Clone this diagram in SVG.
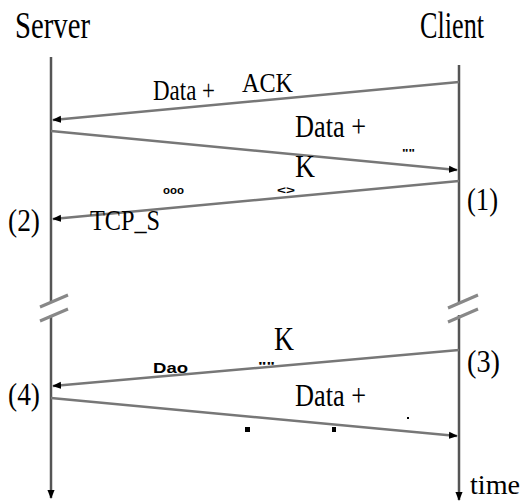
<svg xmlns="http://www.w3.org/2000/svg" width="527" height="504" viewBox="0 0 527 504">
<style>
.t{font-family:"Liberation Serif","Times New Roman",serif;fill:#000}
.life{stroke:#555;stroke-width:2.5;fill:none}
.msg{stroke:#777;stroke-width:2.5;fill:none}
.brk{stroke:#888;stroke-width:3;fill:none}
.tiny{font-family:"Liberation Sans",Arial,sans-serif;font-weight:bold;fill:#000}
</style>
<defs>
<marker id="ah" viewBox="0 0 10 10" refX="9" refY="5" markerWidth="9" markerHeight="9" markerUnits="userSpaceOnUse" orient="auto">
<path d="M0,1 L10,5 L0,9 Z" fill="#000"/>
</marker>
</defs>
<rect width="527" height="504" fill="#fff"/>
<g id="server">
<text class="t" x="15" y="38" font-size="38" textLength="75" lengthAdjust="spacingAndGlyphs">Server</text>
<line class="life" x1="51" y1="57" x2="51" y2="303"/>
<line class="life" x1="51" y1="315" x2="51" y2="498" marker-end="url(#ah)"/>
<path class="brk" d="M40,307 L68,295 M40,321 L68,309"/>
<text class="t" x="8" y="231" font-size="32" textLength="32" lengthAdjust="spacingAndGlyphs">(2)</text>
<text class="t" x="8" y="405" font-size="32" textLength="32" lengthAdjust="spacingAndGlyphs">(4)</text>
</g>
<g id="client">
<text class="t" x="420" y="38" font-size="38" textLength="64" lengthAdjust="spacingAndGlyphs">Client</text>
<line class="life" x1="459" y1="65" x2="459" y2="500" marker-end="url(#ah)" stroke-dasharray="238 12 500"/>
<path class="brk" d="M448,308 L478,295 M448,322 L478,309"/>
<text class="t" x="467" y="210" font-size="32" textLength="31" lengthAdjust="spacingAndGlyphs">(1)</text>
<text class="t" x="467" y="372" font-size="32" textLength="33" lengthAdjust="spacingAndGlyphs">(3)</text>
<text class="t" x="470" y="494" font-size="28" textLength="50" lengthAdjust="spacingAndGlyphs">time</text>
</g>
<g id="connectors">
<line class="msg" x1="459" y1="82" x2="53" y2="120" marker-end="url(#ah)"/>
<line class="msg" x1="51" y1="131" x2="457" y2="170" marker-end="url(#ah)"/>
<line class="msg" x1="459" y1="181" x2="53" y2="219" marker-end="url(#ah)"/>
<line class="msg" x1="459" y1="350" x2="53" y2="386" marker-end="url(#ah)"/>
<line class="msg" x1="51" y1="398" x2="457" y2="436" marker-end="url(#ah)"/>
</g>
<g id="labels">
<text class="t" x="153" y="100" font-size="30" textLength="62" lengthAdjust="spacingAndGlyphs">Data +</text>
<text class="t" x="242" y="92" font-size="27" textLength="51" lengthAdjust="spacingAndGlyphs">ACK</text>
<text class="t" x="295" y="137" font-size="32" textLength="71" lengthAdjust="spacingAndGlyphs">Data +</text>
<text class="t" x="295" y="177" font-size="32" textLength="20" lengthAdjust="spacingAndGlyphs">K</text>
<text class="t" x="90" y="230" font-size="30" textLength="70" lengthAdjust="spacingAndGlyphs">TCP_S</text>
<text class="t" x="274" y="350" font-size="33" textLength="20" lengthAdjust="spacingAndGlyphs">K</text>
<text class="t" x="295" y="406" font-size="32" textLength="71" lengthAdjust="spacingAndGlyphs">Data +</text>
<text class="tiny" x="163" y="194" font-size="11" textLength="21" lengthAdjust="spacingAndGlyphs">ooo</text>
<text class="tiny" x="277" y="194" font-size="11" textLength="18" lengthAdjust="spacingAndGlyphs">&lt;&gt;</text>
<text class="tiny" x="402" y="157" font-size="11" textLength="13" lengthAdjust="spacingAndGlyphs">""</text>
<text class="tiny" x="258" y="370" font-size="11" textLength="17" lengthAdjust="spacingAndGlyphs">""</text>
<text class="tiny" x="153" y="373" font-size="15" textLength="35" lengthAdjust="spacingAndGlyphs">Dao</text>
<rect x="245" y="427" width="5" height="5" fill="#000"/>
<rect x="332" y="427" width="4" height="5" fill="#000"/>
<rect x="407" y="417" width="2" height="2" fill="#000"/>
</g>
</svg>
